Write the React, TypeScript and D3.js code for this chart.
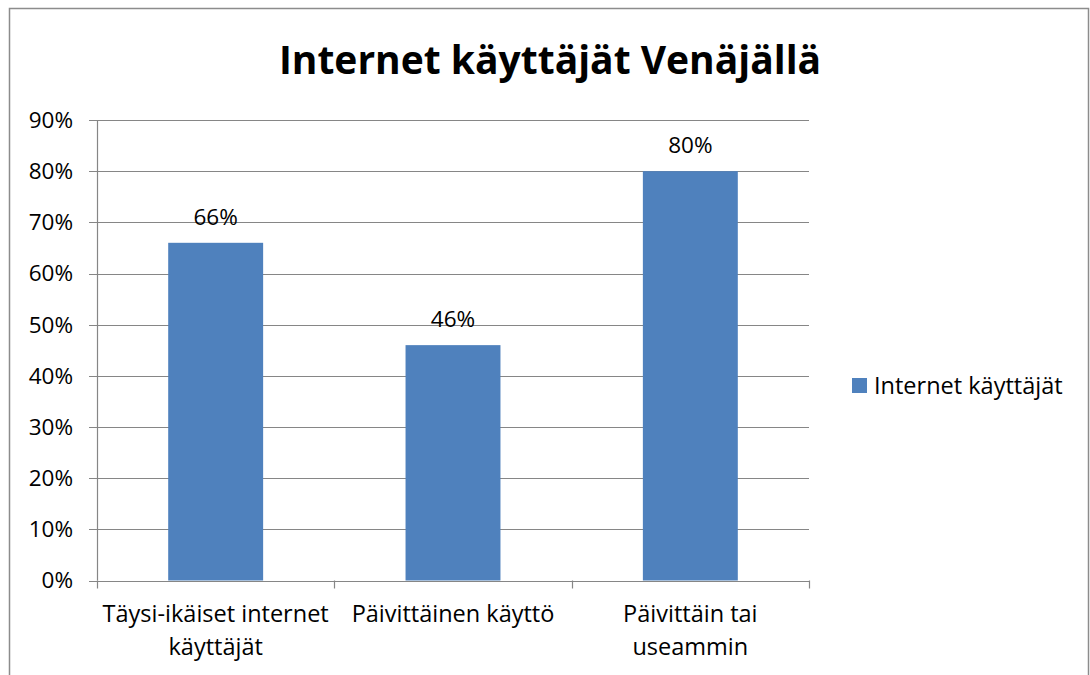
import React, { useEffect, useRef } from 'react'
import * as d3 from 'd3'

const categories = [
  ['Täysi-ikäiset internet', 'käyttäjät'],
  ['Päivittäinen käyttö'],
  ['Päivittäin tai', 'useammin'],
]
const values = [0.66, 0.46, 0.8]
const yTicks = [0, 0.1, 0.2, 0.3, 0.4, 0.5, 0.6, 0.7, 0.8, 0.9]
const seriesName = 'Internet käyttäjät'
const title = 'Internet käyttäjät Venäjällä'

const font = '"Open Sans", Lato, sans-serif'
const barColor = '#4F81BD'
const gridColor = '#868686'

export default function App() {
  const ref = useRef<SVGSVGElement>(null)

  useEffect(() => {
    const svg = d3.select(ref.current)
    svg.selectAll('*').remove()

    // plot area
    const left = 97, right = 809, top = 120, bottom = 580.5

    const x = d3.scaleBand<number>()
      .domain(d3.range(categories.length))
      .range([left, right])
      .padding(0)

    const y = d3.scaleLinear().domain([0, 0.9]).range([bottom, top])

    // outer frame
    svg.append('rect')
      .attr('x', 9.5).attr('y', 8.5)
      .attr('width', 1079).attr('height', 700)
      .attr('fill', '#fff')
      .attr('stroke', '#8c8c8c')
      .attr('stroke-width', 1.5)

    // title
    svg.append('text')
      .attr('x', 550).attr('y', 74)
      .attr('text-anchor', 'middle')
      .style('font-family', font)
      .style('font-weight', 'bold')
      .style('font-size', '39px')
      .text(title)

    // gridlines + y ticks
    const g = svg.append('g')
    g.selectAll('.grid')
      .data(yTicks)
      .enter().append('line')
      .attr('x1', left - 8).attr('x2', right)
      .attr('y1', d => Math.round(y(d)) + 0.5)
      .attr('y2', d => Math.round(y(d)) + 0.5)
      .attr('stroke', gridColor)
      .attr('stroke-width', 1.2)

    g.selectAll('.ylab')
      .data(yTicks)
      .enter().append('text')
      .attr('x', left - 24)
      .attr('y', d => y(d))
      .attr('dy', '0.35em')
      .attr('text-anchor', 'end')
      .style('font-family', font)
      .style('font-size', '22.5px')
      .text(d => d3.format('.0%')(d))

    // y axis
    g.append('line')
      .attr('x1', left + 0.5).attr('x2', left + 0.5)
      .attr('y1', top).attr('y2', bottom)
      .attr('stroke', gridColor).attr('stroke-width', 1.2)

    // category ticks
    const catTicks = d3.range(categories.length + 1).map(i => i < categories.length ? x(i)! : right)
    g.selectAll('.xtick')
      .data(catTicks)
      .enter().append('line')
      .attr('x1', d => Math.round(d) + 0.5).attr('x2', d => Math.round(d) + 0.5)
      .attr('y1', bottom).attr('y2', bottom + 8)
      .attr('stroke', gridColor).attr('stroke-width', 1.2)

    // bars
    const bw = x.bandwidth() * 0.4
    svg.selectAll('.bar')
      .data(values)
      .enter().append('rect')
      .attr('x', (d, i) => x(i)! + (x.bandwidth() - bw) / 2)
      .attr('y', d => y(d))
      .attr('width', bw)
      .attr('height', d => y(0) - y(d))
      .attr('fill', barColor)

    // value labels
    svg.selectAll('.vlab')
      .data(values)
      .enter().append('text')
      .attr('x', (d, i) => x(i)! + x.bandwidth() / 2)
      .attr('y', d => y(d) - 26)
      .attr('dy', '0.35em')
      .attr('text-anchor', 'middle')
      .style('font-family', font)
      .style('font-size', '22.5px')
      .text(d => d3.format('.0%')(d))

    // category labels
    const cl = svg.selectAll('.clab')
      .data(categories)
      .enter().append('text')
      .attr('text-anchor', 'middle')
      .style('font-family', font)
      .style('font-size', '23.5px')
    cl.selectAll('tspan')
      .data((d, i) => d.map(s => ({ s, i })))
      .enter().append('tspan')
      .attr('x', d => x(d.i)! + x.bandwidth() / 2)
      .attr('y', (d, j) => 622 + j * 33)
      .text(d => d.s)

    // legend
    svg.append('rect')
      .attr('x', 852).attr('y', 378)
      .attr('width', 15).attr('height', 15)
      .attr('fill', barColor)
    svg.append('text')
      .attr('x', 874).attr('y', 385.5)
      .attr('dy', '0.35em')
      .style('font-family', font)
      .style('font-size', '23.5px')
      .text(seriesName)
  }, [])

  return (
    <svg ref={ref} width={1090} height={675}
      style={{ position: 'absolute', left: 0, top: 0, display: 'block' }} />
  )
}
